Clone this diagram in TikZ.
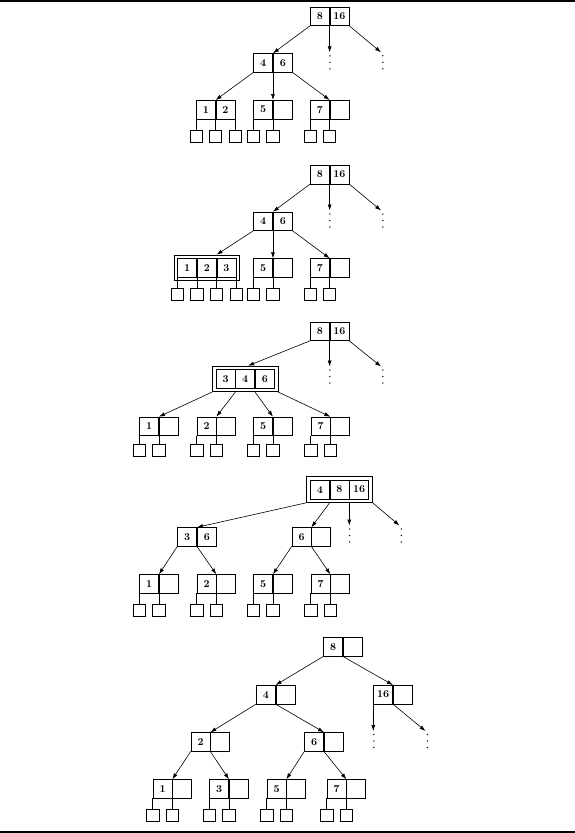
\documentclass[tikz,border=0pt]{standalone}
\usetikzlibrary{arrows.meta,fit,calc}

\tikzset{
  cell/.style={draw, line width=0.65pt, minimum width=19pt, minimum height=18.5pt,
               inner sep=0pt, font=\fontsize{10.5}{12}\selectfont\bfseries},
  leafsq/.style={draw, line width=0.65pt, minimum width=12.3pt, minimum height=11.8pt, inner sep=0pt},
  frame/.style={draw, line width=0.65pt, inner sep=3.3pt},
  ptr/.style={line width=0.6pt, -{Latex[length=6pt,width=4pt]}},
  link/.style={line width=0.6pt},
  rule/.style={line width=2pt}
}

% two-cell node: name, left x, top y, key 1, key 2
\newcommand\pairnode[5]{%
  \node[cell, anchor=north west] (#1a) at (#2,#3) {#4};
  \node[cell, anchor=north west] (#1b) at (#1a.north east) {#5};}
% three-cell node: name, left x, top y, key 1, key 2, key 3
\newcommand\triplenode[6]{%
  \node[cell, anchor=north west] (#1a) at (#2,#3) {#4};
  \node[cell, anchor=north west] (#1b) at (#1a.north east) {#5};
  \node[cell, anchor=north west] (#1c) at (#1b.north east) {#6};}
% empty leaf hanging below a node boundary: name, boundary anchor, top y
\newcommand\hang[3]{%
  \node[leafsq, anchor=north] (#1) at (#2 |- 0,#3) {};
  \draw[link] (#2) -- (#1.north);}
% column of dots under a dangling pointer: coordinate, x offset
\newcommand\dotcol[2]{%
  \foreach \dd in {3.5,10,16.5} \fill ($(#1)+(#2,\dd)$) circle (0.75pt);}

\begin{document}
\begin{tikzpicture}[x=1pt,y=-1pt]
\useasboundingbox (0,0) rectangle (575,833);
\draw[rule] (0,1) -- (575,1);
\draw[rule] (0,831.7) -- (575,831.7);

% ---------------- tree 1 ----------------
\pairnode{pa}{310}{6.7}{8}{16}
\pairnode{pb}{253.3}{53.3}{4}{6}
\pairnode{pc}{196}{100}{1}{2}
\pairnode{pd}{253.3}{100}{5}{}
\pairnode{pe}{310}{100}{7}{}
\hang{pl1}{pca.south west}{130}
\hang{pl2}{pca.south east}{130}
\hang{pl3}{pcb.south east}{130}
\hang{pl4}{pda.south west}{130}
\hang{pl5}{pda.south east}{130}
\hang{pl6}{pea.south west}{130}
\hang{pl7}{pea.south east}{130}
\coordinate (pam) at (paa.south east |- 0,52.3);
\coordinate (par) at (381,52.3);
\draw[ptr] (paa.south west) -- (pbb.north west);
\draw[ptr] (paa.south east) -- (pam);
\draw[ptr] (pab.south east) -- (par);
\dotcol{pam}{0.3}
\dotcol{par}{1.8}
\draw[ptr] (pba.south west) -- (pcb.north west);
\draw[ptr] (pba.south east) -- (pdb.north west);
\draw[ptr] (pbb.south east) -- (peb.north west);

% ---------------- tree 2 ----------------
\pairnode{qa}{310}{165}{8}{16}
\pairnode{qb}{253.3}{211.7}{4}{6}
\triplenode{qc}{177.3}{258.3}{1}{2}{3}
\node[frame, fit=(qca)(qcc)] (qcf) {};
\pairnode{qd}{253.3}{258.3}{5}{}
\pairnode{qe}{310}{258.3}{7}{}
\hang{ql1}{qca.south west}{287.7}
\hang{ql2}{qca.south east}{287.7}
\hang{ql3}{qcb.south east}{287.7}
\hang{ql4}{qcc.south east}{287.7}
\hang{ql5}{qda.south west}{287.7}
\hang{ql6}{qda.south east}{287.7}
\hang{ql7}{qea.south west}{287.7}
\hang{ql8}{qea.south east}{287.7}
\coordinate (qam) at (qaa.south east |- 0,210.5);
\coordinate (qar) at (381,210.5);
\draw[ptr] (qaa.south west) -- (qbb.north west);
\draw[ptr] (qaa.south east) -- (qam);
\draw[ptr] (qab.south east) -- (qar);
\dotcol{qam}{0.3}
\dotcol{qar}{1.8}
\draw[ptr] (qba.south west) -- (qcb.north east |- qcf.north);
\draw[ptr] (qba.south east) -- (qdb.north west);
\draw[ptr] (qbb.south east) -- (qeb.north west);

% ---------------- tree 3 ----------------
\pairnode{ra}{310}{321.7}{8}{16}
\triplenode{rb}{215.7}{369.3}{3}{4}{6}
\node[frame, fit=(rba)(rbc)] (rbf) {};
\pairnode{rc}{139.3}{416.7}{1}{}
\pairnode{rd}{196.7}{416.7}{2}{}
\pairnode{re}{253.3}{416.7}{5}{}
\pairnode{rg}{310.7}{416.7}{7}{}
\hang{rl1}{rca.south west}{444.3}
\hang{rl2}{rca.south east}{444.3}
\hang{rl3}{rda.south west}{444.3}
\hang{rl4}{rda.south east}{444.3}
\hang{rl5}{rea.south west}{444.3}
\hang{rl6}{rea.south east}{444.3}
\hang{rl7}{rga.south west}{444.3}
\hang{rl8}{rga.south east}{444.3}
\coordinate (rin) at ($(rbf.north)+(3,0)$);
\coordinate (ram) at (raa.south east |- 0,366.5);
\coordinate (rar) at (381,366.5);
\draw[ptr] (raa.south west) -- (rin);
\draw[ptr] (raa.south east) -- (ram);
\draw[ptr] (rab.south east) -- (rar);
\dotcol{ram}{0.3}
\dotcol{rar}{1.8}
\draw[ptr] (rbf.south west) -- (rcb.north west);
\draw[ptr] (rba.south east |- rbf.south) -- (rdb.north west);
\draw[ptr] (rbb.south east |- rbf.south) -- (reb.north west);
\draw[ptr] (rbf.south east) -- (rgb.north west);

% ---------------- tree 4 ----------------
\triplenode{sa}{310}{480}{4}{8}{16}
\node[frame, fit=(saa)(sac)] (saf) {};
\pairnode{sb}{177.3}{527.3}{3}{6}
\pairnode{sc}{291.7}{527.3}{6}{}
\pairnode{sd}{139.3}{574.3}{1}{}
\pairnode{se}{196.7}{574.3}{2}{}
\pairnode{sg}{253.3}{574.3}{5}{}
\pairnode{sh}{310.7}{574.3}{7}{}
\hang{sl1}{sda.south west}{604}
\hang{sl2}{sda.south east}{604}
\hang{sl3}{sea.south west}{604}
\hang{sl4}{sea.south east}{604}
\hang{sl5}{sga.south west}{604}
\hang{sl6}{sga.south east}{604}
\hang{sl7}{sha.south west}{604}
\hang{sl8}{sha.south east}{604}
\coordinate (sam) at (sab.south east |- 0,525.5);
\coordinate (sar) at (399.5,525.5);
\draw[ptr] (saf.south west) -- (sbb.north west);
\draw[ptr] (saa.south east |- saf.south) -- (scb.north west);
\draw[ptr] (sab.south east |- saf.south) -- (sam);
\draw[ptr] (saf.south east) -- (sar);
\dotcol{sam}{0.3}
\dotcol{sar}{1.8}
\draw[ptr] (sba.south west) -- (sdb.north west);
\draw[ptr] (sba.south east) -- (seb.north west);
\draw[ptr] (sca.south west) -- (sgb.north west);
\draw[ptr] (sca.south east) -- (shb.north west);

% ---------------- tree 5 ----------------
\pairnode{ta}{323.3}{637.3}{8}{}
\pairnode{tb}{256}{685}{4}{}
\pairnode{tc}{373.3}{685}{16}{}
\pairnode{td}{190.7}{732.3}{2}{}
\pairnode{te}{304.3}{732.3}{6}{}
\pairnode{tf}{152.7}{779.3}{1}{}
\pairnode{tg}{209.3}{779.3}{3}{}
\pairnode{th}{266.7}{779.3}{5}{}
\pairnode{ti}{326.7}{779.3}{7}{}
\hang{tl1}{tfa.south west}{809}
\hang{tl2}{tfa.south east}{809}
\hang{tl3}{tga.south west}{809}
\hang{tl4}{tga.south east}{809}
\hang{tl5}{tha.south west}{809}
\hang{tl6}{tha.south east}{809}
\hang{tl7}{tia.south west}{809}
\hang{tl8}{tia.south east}{809}
\coordinate (tcm) at (tca.south west |- 0,731);
\coordinate (tcr) at (425.5,731);
\draw[ptr] (taa.south west) -- (tbb.north west);
\draw[ptr] (taa.south east) -- (tcb.north west);
\draw[ptr] (tba.south west) -- (tdb.north west);
\draw[ptr] (tba.south east) -- (teb.north west);
\draw[ptr] (tca.south west) -- (tcm);
\draw[ptr] (tca.south east) -- (tcr);
\dotcol{tcm}{0.5}
\dotcol{tcr}{1.8}
\draw[ptr] (tda.south west) -- (tfb.north west);
\draw[ptr] (tda.south east) -- (tgb.north west);
\draw[ptr] (tea.south west) -- (thb.north west);
\draw[ptr] (tea.south east) -- (tib.north west);
\end{tikzpicture}
\end{document}
